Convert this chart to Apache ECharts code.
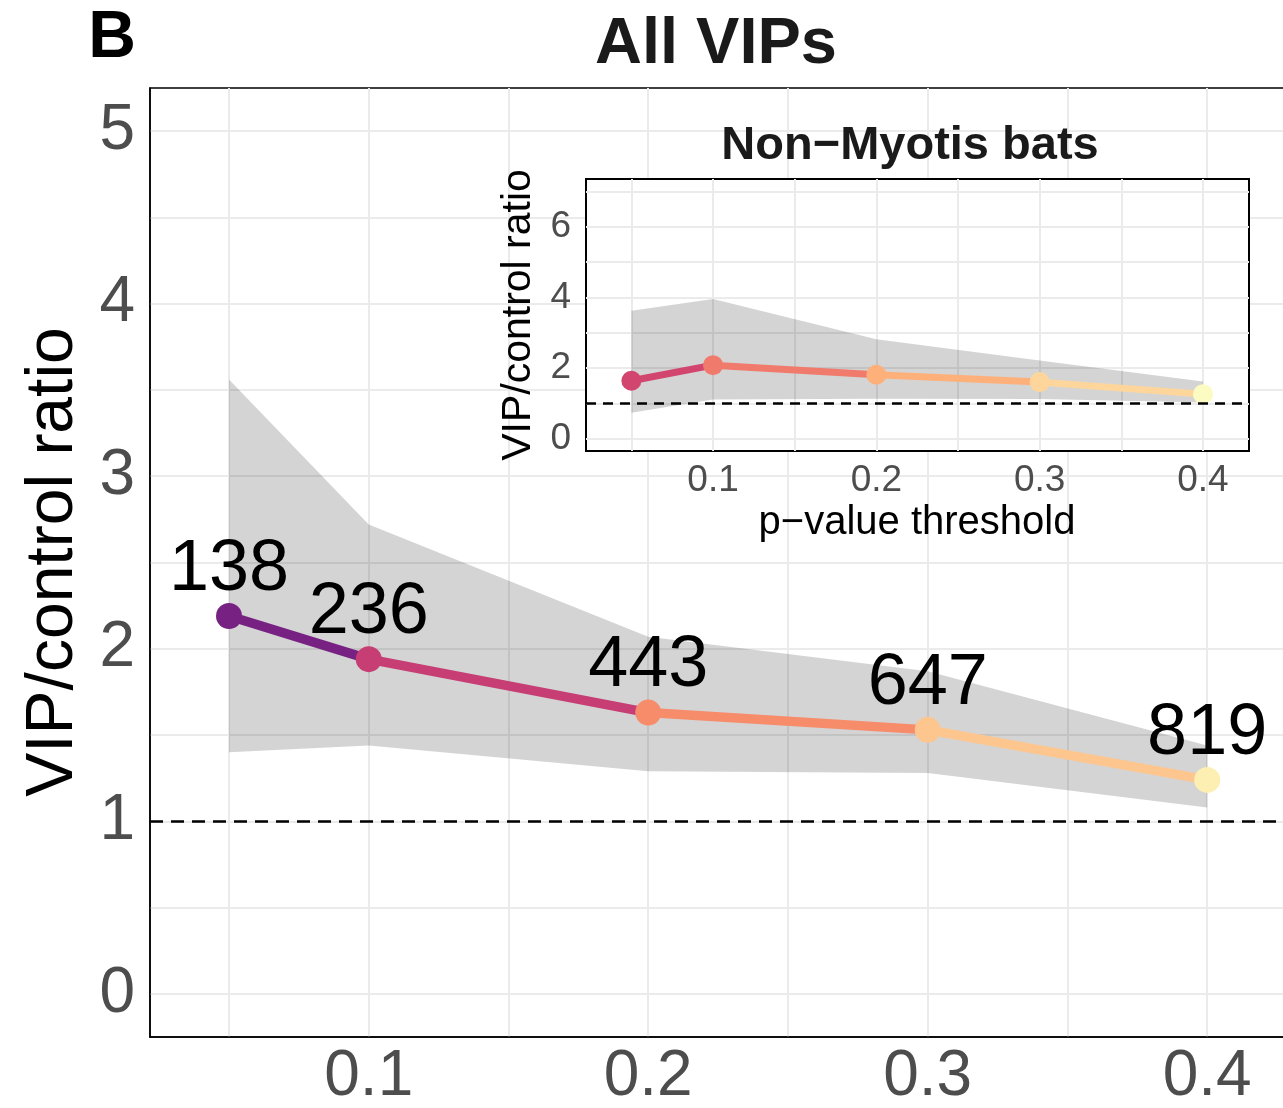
<!DOCTYPE html>
<html><head><meta charset="utf-8">
<script src="https://cdn.jsdelivr.net/npm/echarts@6/dist/echarts.min.js"></script>
<style>html,body{margin:0;padding:0;background:#fff}#c{width:1283px;height:1108px}</style>
</head><body><div id="c"></div>
<script>
// ---------- data ----------
const pThresholds = [0.05, 0.1, 0.2, 0.3, 0.4];
const mainRatio  = [2.19, 1.94, 1.63, 1.53, 1.24];
const mainLower  = [1.40, 1.44, 1.29, 1.28, 1.08];
const mainUpper  = [3.56, 2.72, 2.07, 1.87, 1.44];
const mainCounts = [138, 236, 443, 647, 819];
const insetRatio = [1.64, 2.08, 1.81, 1.60, 1.26];
const insetLower = [0.73, 1.11, 1.13, 1.12, 1.02];
const insetUpper = [3.62, 3.95, 2.81, 2.21, 1.62];
const mainColors  = ['#772282', '#c63e73', '#f78c6b', '#fec68f', '#fdeeb1'];
const insetColors = ['#d2456e', '#f07b6d', '#feb07b', '#fed69b', '#fbfbc2'];
const mainYTicks  = [0, 1, 2, 3, 4, 5];
const insetYTicks = [0, 2, 4, 6];
const xTickLabels = ['0.1', '0.2', '0.3', '0.4'];
const refLine = 1;

const FF = '"Liberation Sans", Arial, Helvetica, sans-serif';

function panelSeries(gi, ratio, lower, upper, colors, lw, ps, counts, dash, dashW) {
  const s = [];
  // confidence ribbon drawn as one polygon through the axis scales
  s.push({
    type: 'custom', xAxisIndex: gi, yAxisIndex: gi, silent: true, z: 2,
    data: pThresholds.map((x, i) => [x, lower[i], upper[i]]),
    encode: { x: 0, y: [1, 2] },
    renderItem: function (params, api) {
      if (params.dataIndexInside !== 0) return null;
      const n = params.dataInsideLength;
      const top = [], bot = [];
      for (let j = 0; j < n; j++) {
        top.push(api.coord([api.value(0, j), api.value(2, j)]));
        bot.push(api.coord([api.value(0, j), api.value(1, j)]));
      }
      return { type: 'polygon', shape: { points: top.concat(bot.reverse()) },
        style: { fill: 'rgba(0,0,0,0.17)' } };
    },
    markLine: { silent: true, symbol: 'none', label: { show: false },
      lineStyle: { color: '#000', type: dash, width: dashW }, data: [{ yAxis: refLine }] }
  });
  for (let i = 0; i < pThresholds.length - 1; i++) {
    s.push({
      type: 'line', xAxisIndex: gi, yAxisIndex: gi, silent: true, symbol: 'none',
      data: [[pThresholds[i], ratio[i]], [pThresholds[i + 1], ratio[i + 1]]],
      lineStyle: { color: colors[i], width: lw, cap: 'butt' }, z: 3
    });
  }
  s.push({
    type: 'scatter', xAxisIndex: gi, yAxisIndex: gi, silent: true, symbolSize: ps, z: 4, clip: false,
    data: pThresholds.map((x, i) => ({ value: [x, ratio[i]], itemStyle: { color: colors[i], opacity: 1 } })),
    label: counts ? {
      show: true, position: 'top', distance: 3, offset: [0, 6], fontSize: 72, color: '#000', fontFamily: FF,
      formatter: p => String(counts[p.dataIndex])
    } : { show: false }
  });
  return s;
}

function xFmt(v) { const s = String(+(+v).toFixed(4)); return xTickLabels.includes(s) ? s : ''; }
function yFmt(list) { return v => { const n = +(+v).toFixed(4); return list.includes(n) ? String(n) : ''; }; }

const option = {
  animation: false,
  backgroundColor: '#fff',
  grid: [
    { left: 150, top: 88, width: 1136, height: 949, show: true, backgroundColor: 'transparent',
      borderColor: '#000', borderWidth: 1.5, containLabel: false, outerBoundsMode: 'none', z: 0 },
    { left: 586, top: 179, width: 663, height: 272, show: true, backgroundColor: '#fff',
      borderColor: '#000', borderWidth: 2, containLabel: false, outerBoundsMode: 'none', z: 1 }
  ],
  xAxis: [
    { type: 'value', gridIndex: 0, min: 0.02173, max: 0.4282, splitNumber: 8, z: 0,
      axisLine: { show: true, onZero: false, lineStyle: { color: '#000', width: 1.5 } },
      axisTick: { show: false },
      axisLabel: { interval: 0, margin: 8, fontSize: 64, color: '#4d4d4d', fontFamily: FF, formatter: xFmt },
      splitLine: { show: true, showMinLine: false, showMaxLine: false, lineStyle: { color: '#ebebeb', width: 2 } } },
    { type: 'value', gridIndex: 1, min: 0.0222, max: 0.4282, splitNumber: 8, z: 1,
      axisLine: { show: false }, axisTick: { show: false },
      axisLabel: { interval: 0, margin: 11, fontSize: 37, color: '#4d4d4d', fontFamily: FF, formatter: xFmt },
      splitLine: { show: true, showMinLine: false, showMaxLine: false, lineStyle: { color: '#ebebeb', width: 2 } } }
  ],
  yAxis: [
    { type: 'value', gridIndex: 0, min: -0.25, max: 5.25, splitNumber: 11, z: 0,
      axisLine: { show: true, onZero: false, lineStyle: { color: '#000', width: 1.5 } },
      axisTick: { show: false },
      axisLabel: { interval: 0, margin: 15, fontSize: 64, color: '#4d4d4d', fontFamily: FF, formatter: yFmt(mainYTicks) },
      splitLine: { show: true, showMinLine: false, showMaxLine: false, lineStyle: { color: '#ebebeb', width: 2 } } },
    { type: 'value', gridIndex: 1, min: -0.35, max: 7.35, splitNumber: 8, z: 1,
      axisLine: { show: false }, axisTick: { show: false },
      axisLabel: { interval: 0, margin: 15, fontSize: 37, color: '#4d4d4d', fontFamily: FF, formatter: yFmt(insetYTicks) },
      splitLine: { show: true, showMinLine: false, showMaxLine: false, lineStyle: { color: '#ebebeb', width: 2 } } }
  ],
  series: [].concat(
    panelSeries(0, mainRatio, mainLower, mainUpper, mainColors, 9.5, 26, mainCounts, [13, 8], 2.5),
    panelSeries(1, insetRatio, insetLower, insetUpper, insetColors, 7, 20, null, [10, 7], 2.5)
  ),
  graphic: [
    { type: 'text', x: 112, y: 39, z: 100, silent: true,
      style: { text: 'B', fontSize: 66, fontWeight: 'bold', fontFamily: FF, fill: '#000', align: 'center', verticalAlign: 'middle' } },
    { type: 'text', x: 716, y: 45, z: 100, silent: true,
      style: { text: 'All VIPs', fontSize: 65, fontWeight: 'bold', fontFamily: FF, fill: '#1a1a1a', align: 'center', verticalAlign: 'middle' } },
    { type: 'text', x: 54, y: 562, rotation: Math.PI / 2, z: 100, silent: true,
      style: { text: 'VIP/control ratio', fontSize: 66, fontFamily: FF, fill: '#000', align: 'center', verticalAlign: 'middle' } },
    { type: 'text', x: 910, y: 146, z: 100, silent: true,
      style: { text: 'Non\u2212Myotis bats', fontSize: 47, fontWeight: 'bold', fontFamily: FF, fill: '#1a1a1a', align: 'center', verticalAlign: 'middle' } },
    { type: 'text', x: 519, y: 315, rotation: Math.PI / 2, z: 100, silent: true,
      style: { text: 'VIP/control ratio', fontSize: 41, fontFamily: FF, fill: '#000', align: 'center', verticalAlign: 'middle' } },
    { type: 'text', x: 917, y: 523, z: 100, silent: true,
      style: { text: 'p\u2212value threshold', fontSize: 40, fontFamily: FF, fill: '#000', align: 'center', verticalAlign: 'middle' } }
  ]
};

const chart = echarts.init(document.getElementById('c'), null, { renderer: 'canvas' });
chart.setOption(option);
</script>
</body></html>
